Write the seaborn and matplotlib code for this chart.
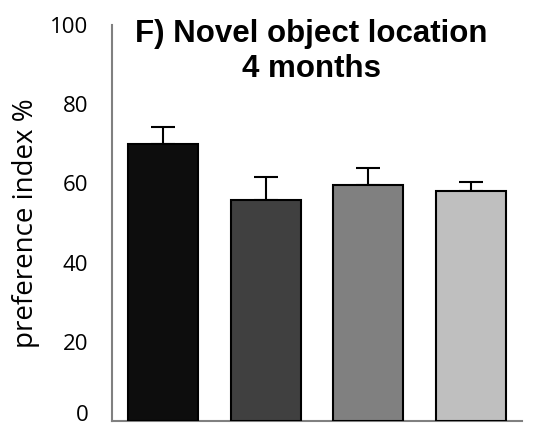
import matplotlib
matplotlib.use('Agg')
import matplotlib.pyplot as plt
import matplotlib.transforms as mtransforms
import seaborn as sns
import pandas as pd

## Values
groups = ['A', 'B', 'C', 'D']
pref_index = [70.0, 55.8, 59.6, 58.1]
sem = [4.2, 5.8, 4.3, 2.3]
bar_colors = ['#0d0d0d', '#404040', '#808080', '#bfbfbf']
y_ticks = [0, 20, 40, 60, 80, 100]

sns.set_style('white')
plt.rcParams['font.family'] = ['Liberation Sans', 'DejaVu Sans']
plt.rcParams['text.color'] = 'black'
plt.rcParams['axes.labelcolor'] = 'black'
plt.rcParams['ytick.color'] = 'black'

df = pd.DataFrame({'group': groups, 'pref': pref_index})

fig = plt.figure(figsize=(5.42, 4.28), dpi=100)
ax = fig.add_axes([0.2066, 0.0164, 0.7565, 0.925])

sns.barplot(data=df, x='group', y='pref', hue='group', palette=bar_colors,
            width=0.68, edgecolor='black', linewidth=1.5, legend=False, ax=ax,
            zorder=3)

# only the upper half of the error bars is visible
ax.errorbar(range(len(groups)), pref_index, yerr=[[0] * len(sem), sem],
            fmt='none', ecolor='black', elinewidth=1.5, capsize=8.6,
            capthick=1.5, zorder=2)

ax.set_ylim(0, 100)
ax.set_xlim(-0.5, 3.5)
ax.set_yticks(y_ticks)
ax.set_yticklabels([str(t) for t in y_ticks], fontsize=16, family='Open Sans')
ax.tick_params(axis='y', length=0, pad=17, labelcolor='black')
# nudge the "0" up so it is not clipped at the bottom edge
zero_lbl = ax.get_yticklabels()[0]
zero_lbl.set_transform(zero_lbl.get_transform() +
                       mtransforms.ScaledTranslation(0, 6 / 72, fig.dpi_scale_trans))
ax.set_xticks([])
ax.set_xlabel('')
ax.set_ylabel('preference index %', fontsize=20, family='Open Sans', labelpad=7,
              color='black')

for side in ['top', 'right']:
    ax.spines[side].set_visible(False)
for side in ['left', 'bottom']:
    ax.spines[side].set_color('#808080')
    ax.spines[side].set_linewidth(1.5)

ax.text(0.487, 1.015, 'F) Novel object location\n4 months', transform=ax.transAxes,
        ha='center', va='top', fontsize=22.5, fontweight='bold', linespacing=1.2,
        color='black')

fig.savefig('out.png', dpi=100)
